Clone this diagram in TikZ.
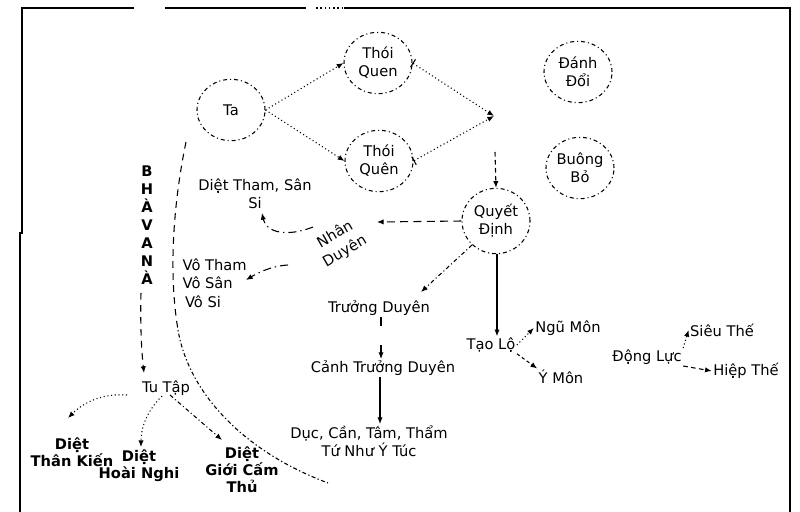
\documentclass[tikz,border=0pt]{standalone}
\usepackage{fontspec}
\setmainfont{DejaVu Sans}
\usetikzlibrary{arrows.meta,shapes.geometric}

\tikzset{
  every node/.style={font=\fontsize{11}{13.5}\selectfont, inner sep=1pt},
  bub/.style={ellipse, draw, line width=0.8pt, align=center,
              minimum width=51pt, minimum height=46pt, inner sep=0pt,
              dash pattern=on 3pt off 2.2pt on 0.8pt off 2.2pt},
  txt/.style={align=center},
  bold/.style={align=center, font=\fontsize{11}{12.8}\selectfont\bfseries},
  link/.style={line width=0.8pt, -{Latex[length=5pt,width=4pt]}},
  dotlink/.style={link, dotted},
  dashlink/.style={link, dash pattern=on 3.5pt off 2.5pt},
  dashdot/.style={link, dash pattern=on 3pt off 2pt on 0.8pt off 2pt},
  frameline/.style={line width=1.6pt, line cap=rect}
}

\begin{document}
\begin{tikzpicture}[x=0.75pt,y=-0.75pt]
\useasboundingbox (0,0) rectangle (800,511);

% outer frame (open at the bottom)
\draw[frameline] (22,8) -- (133,8);
\draw[frameline] (166,8) -- (305,8);
\draw[line width=1.2pt, dotted] (316,8) -- (345,8);
\draw[frameline] (345,8) -- (790,8) -- (790,511);
\draw[frameline] (22,8) -- (22,233);
\draw[frameline] (20,233) -- (20,511);

% circled concepts
\node[bub] (Ta) at (231,110) {Ta};
\node[bub] (ThoiQuen) at (378,63) {Thói\\Quen};
\node[bub] (ThoiQuen2) at (379,161) {Thói\\Quên};
\node[bub] (DanhDoi) at (578,72) {Đánh\\Đổi};
\node[bub] (BuongBo) at (580,168) {Buông\\Bỏ};
\node[bub, minimum height=49pt] (QuyetDinh) at (496,221) {Quyết\\Định};

% junction of the two habits
\coordinate (J) at (494,116);
\coordinate (J2) at (495,152);

\draw[dotlink] (Ta.east) -- (ThoiQuen.west);
\draw[dotlink] (Ta.east) -- (ThoiQuen2.west);
\draw[dotlink, {Bar[width=7pt]}-{Latex[length=5pt,width=4pt]}] (ThoiQuen.east) -- (J);
\draw[dotlink, {Bar[width=7pt]}-{Latex[length=5pt,width=4pt]}] (ThoiQuen2.east) -- (J);
\draw[dashlink] (J2) -- (QuyetDinh.north);

% Nhân Duyên branch
\node[txt, rotate=30, font=\fontsize{11}{14.5}\selectfont] (NhanDuyen) at (340,243) {Nhân\\Duyên};
\coordinate (ndIn) at (377,222);
\draw[dashlink, dash pattern=on 6pt off 4pt] (QuyetDinh.west) -- (ndIn);

\node[txt] (DietTham) at (255,194) {Diệt Tham, Sân\\Si};
\coordinate (ndA) at (313,227);
\coordinate (dtIn) at (262,213);
\draw[dashlink, dash pattern=on 6pt off 3pt on 1pt off 3pt] (ndA) .. controls (288,237) and (266,233) .. (dtIn);

\node[align=left, anchor=west, font=\fontsize{11}{14}\selectfont] (VoTham) at (181,283) {Vô Tham\\Vô Sân\\\,Vô Si};
\coordinate (ndB) at (288,265);
\coordinate (vtIn) at (246,280);
\draw[dashlink, dash pattern=on 6pt off 3pt on 1pt off 3pt] (ndB) .. controls (270,266) and (256,274) .. (vtIn);

% Bhàvanà path
\node[bold, font=\fontsize{11}{13.5}\selectfont\bfseries] (Bhavana) at (147,225) {B\\H\\À\\V\\A\\N\\À};
\node[txt] (TuTap) at (166,388) {Tu Tập};
\coordinate (bvA) at (141,293);
\coordinate (ttIn) at (144,373);
\draw[dashlink, dash pattern=on 5pt off 4pt] (bvA) .. controls (140,330) and (142,355) .. (ttIn);

% long boundary arc
\coordinate (arcA) at (186,142);
\coordinate (arcB) at (178,330);
\coordinate (arcC) at (328,483);
\draw[line width=0.8pt, dash pattern=on 5pt off 4pt] (arcA) .. controls (174,200) and (168,270) .. (arcB);
\draw[line width=0.8pt, dash pattern=on 1pt off 1.8pt on 3pt off 1.8pt]
  (arcB) .. controls (188,390) and (240,450) .. (arcC);

% Tu Tập outcomes
\node[bold] (DietThan) at (72,452) {Diệt\\Thân Kiến};
\node[bold] (DietHoai) at (139,466) {Diệt\\Hoài Nghi};
\node[bold] (DietGioi) at (242,470) {Diệt\\Giới Cấm\\Thủ};
\coordinate (tt1) at (127,395);
\coordinate (tt2) at (162,396);
\coordinate (tt3) at (170,395);
\coordinate (dIn1) at (68,418);
\coordinate (dIn2) at (141,447);
\coordinate (dIn3) at (222,440);
\draw[dotlink] (tt1) .. controls (100,393) and (82,404) .. (dIn1);
\draw[dotlink] (tt2) .. controls (148,410) and (141,426) .. (dIn2);
\draw[dashdot] (tt3) -- (dIn3);

% Trưởng Duyên chain
\node[txt] (TruongDuyen) at (379,308) {Trưởng Duyên};
\coordinate (tdIn) at (421,292);
\draw[dashdot] (QuyetDinh.225) -- (tdIn);
\node[txt] (CanhTruong) at (383,368) {Cảnh Trưởng Duyên};
\draw[link, dash pattern=on 7pt off 14pt] (TruongDuyen.south -| 381,0) -- (CanhTruong.north -| 381,0);
\node[txt] (Duc) at (369,441) {Dục, Cần, Tâm, Thẩm\\Tứ Như Ý Túc};
\draw[link] (CanhTruong.south -| 380,0) -- (Duc.north -| 380,0);

% Tạo Lộ branch
\node[txt] (TaoLo) at (491,345) {Tạo Lộ};
\draw[link] (QuyetDinh.south -| 497,0) -- (TaoLo.north -| 497,0);
\node[txt] (NguMon) at (568,328) {Ngũ Môn};
\node[txt] (YMon) at (561,377) {Ý Môn};
\draw[dotlink] (TaoLo.east) -- (NguMon.west);
\draw[dashlink, dash pattern=on 2.5pt off 2pt] (TaoLo.south east) -- (YMon.north west);

% Động Lực branch
\node[txt] (DongLuc) at (647,357) {Động Lực};
\node[txt] (SieuThe) at (722,330) {Siêu Thế};
\node[txt] (HiepThe) at (746,371) {Hiệp Thế};
\draw[dotlink] (DongLuc.north east) -- (SieuThe.west);
\draw[dashlink] (DongLuc.south east) -- (HiepThe.west);

\end{tikzpicture}
\end{document}
